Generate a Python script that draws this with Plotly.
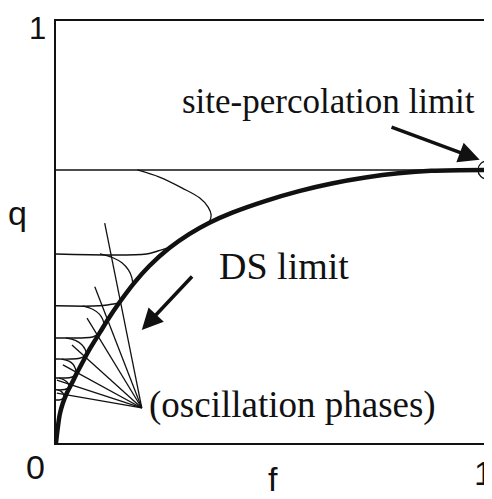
"""Phase diagram in the (f, q) plane: DS limit, site-percolation limit, oscillation phases."""
import plotly.graph_objects as go

# DS limit curve
ds_f = [0, 0.004, 0.009, 0.016, 0.025, 0.037, 0.048, 0.062, 0.079, 0.102, 0.120,
        0.143, 0.182, 0.217, 0.263, 0.309, 0.356, 0.409, 0.487, 0.564, 0.640,
        0.718, 0.794, 0.871, 1.0]
ds_q = [0, 0.035, 0.069, 0.095, 0.118, 0.142, 0.165, 0.192, 0.224, 0.262, 0.292,
        0.327, 0.380, 0.420, 0.462, 0.495, 0.522, 0.546, 0.574, 0.597, 0.615,
        0.629, 0.639, 0.645, 0.647]

# site-percolation limit
perc_q = 0.647

# phase boundaries: horizontal lines bending up into the DS curve
h_lines = [
    ([0, 0.210, 0.236, 0.262], [0.448, 0.448, 0.455, 0.463]),
    ([0, 0.100, 0.125, 0.145], [0.325, 0.325, 0.328, 0.331]),
    ([0, 0.060, 0.085, 0.100], [0.249, 0.249, 0.251, 0.259]),
    ([0, 0.035, 0.055, 0.068], [0.199, 0.199, 0.201, 0.206]),
    ([0, 0.022, 0.036, 0.045], [0.154, 0.154, 0.156, 0.161]),
    ([0, 0.014, 0.024, 0.031], [0.126, 0.126, 0.128, 0.132]),
    ([0, 0.008, 0.014, 0.019], [0.102, 0.102, 0.104, 0.107]),
]

# lobes hanging from each line down to the DS curve
lobes = [
    ([0.189, 0.240, 0.293, 0.333, 0.353, 0.360, 0.356],
     [0.647, 0.630, 0.604, 0.581, 0.559, 0.540, 0.524]),
    ([0.102, 0.132, 0.153, 0.168, 0.176, 0.178], [0.448, 0.439, 0.427, 0.410, 0.392, 0.376]),
    ([0.062, 0.085, 0.100, 0.108, 0.112], [0.325, 0.317, 0.306, 0.294, 0.280]),
    ([0.023, 0.045, 0.060, 0.068, 0.071], [0.249, 0.243, 0.233, 0.221, 0.210]),
    ([0.013, 0.030, 0.040, 0.045, 0.047], [0.199, 0.194, 0.186, 0.176, 0.167]),
    ([0.007, 0.018, 0.026, 0.030, 0.031], [0.154, 0.150, 0.144, 0.137, 0.131]),
    ([0.004, 0.011, 0.016, 0.020], [0.126, 0.123, 0.118, 0.106]),
]

# pointer lines for "(oscillation phases)"
focus = (0.199, 0.083)
ray_f = [0.113, 0.090, 0.072, 0.037, 0.016, 0.002, 0.002]
ray_q = [0.521, 0.370, 0.296, 0.232, 0.185, 0.149, 0.118]

BLACK = "#111111"
SERIF = "Liberation Serif, Times New Roman, serif"
SANS = "Liberation Sans, Arial, sans-serif"

fig = go.Figure()

fig.add_trace(go.Scatter(x=[0, 1], y=[perc_q, perc_q], mode="lines",
                         line=dict(color=BLACK, width=1.5), showlegend=False))

for xs, ys in h_lines:
    fig.add_trace(go.Scatter(x=xs, y=ys, mode="lines", line_shape="spline",
                             line=dict(color=BLACK, width=1.5), showlegend=False))

for xs, ys in lobes:
    fig.add_trace(go.Scatter(x=xs, y=ys, mode="lines", line_shape="spline",
                             line=dict(color=BLACK, width=1.3), showlegend=False))

for rf, rq in zip(ray_f, ray_q):
    fig.add_trace(go.Scatter(x=[rf, focus[0]], y=[rq, focus[1]], mode="lines",
                             line=dict(color=BLACK, width=1.3), showlegend=False))

fig.add_trace(go.Scatter(x=ds_f, y=ds_q, mode="lines", line_shape="spline",
                         line=dict(color=BLACK, width=4.5), showlegend=False))

fig.add_trace(go.Scatter(x=[1], y=[perc_q], mode="markers", cliponaxis=False,
                         marker=dict(symbol="circle-open", size=18, color=BLACK,
                                     line=dict(color=BLACK, width=1.3)),
                         showlegend=False))

# arrows
fig.add_annotation(x=0.983, y=0.671, ax=0.775, ay=0.750, xref="x", yref="y",
                   axref="x", ayref="y", showarrow=True, arrowhead=2,
                   arrowsize=1.2, arrowwidth=3.5, arrowcolor=BLACK, text="")
fig.add_annotation(x=0.199, y=0.268, ax=0.319, ay=0.398, xref="x", yref="y",
                   axref="x", ayref="y", showarrow=True, arrowhead=2,
                   arrowsize=1.2, arrowwidth=3.5, arrowcolor=BLACK, text="")

# labels
fig.add_annotation(x=0.633, y=0.810, text="site-percolation limit", showarrow=False,
                   font=dict(family=SERIF, size=35, color=BLACK))
fig.add_annotation(x=0.528, y=0.419, text="DS limit", showarrow=False,
                   font=dict(family=SERIF, size=38, color=BLACK))
fig.add_annotation(x=0.212, y=0.090, text="(oscillation phases)", showarrow=False,
                   xanchor="left", font=dict(family=SERIF, size=37, color=BLACK))

# axis numbers and letters
for text, px, py, size in [("1", -0.042, 0.983, 31), ("q", -0.09, 0.545, 34),
                           ("0", -0.048, -0.057, 34), ("f", 0.503, -0.085, 34),
                           ("1", 0.993, -0.071, 34)]:
    fig.add_annotation(x=px, y=py, xref="paper", yref="paper", text=text,
                       xanchor="center", yanchor="middle", showarrow=False,
                       font=dict(family=SANS, size=size, color=BLACK))

axis = dict(range=[0, 1], showgrid=False, zeroline=False, showticklabels=False,
            ticks="", showline=True, mirror=True, linecolor=BLACK, linewidth=1.5)

# the page adds an 8 px body margin, so the figure is 8 px smaller on each side
fig.update_layout(
    width=484, height=491,
    margin=dict(l=48, r=3, t=13, b=56),
    paper_bgcolor="white", plot_bgcolor="white",
    xaxis=axis, yaxis=axis,
    showlegend=False,
)

fig.write_html("out.html")
